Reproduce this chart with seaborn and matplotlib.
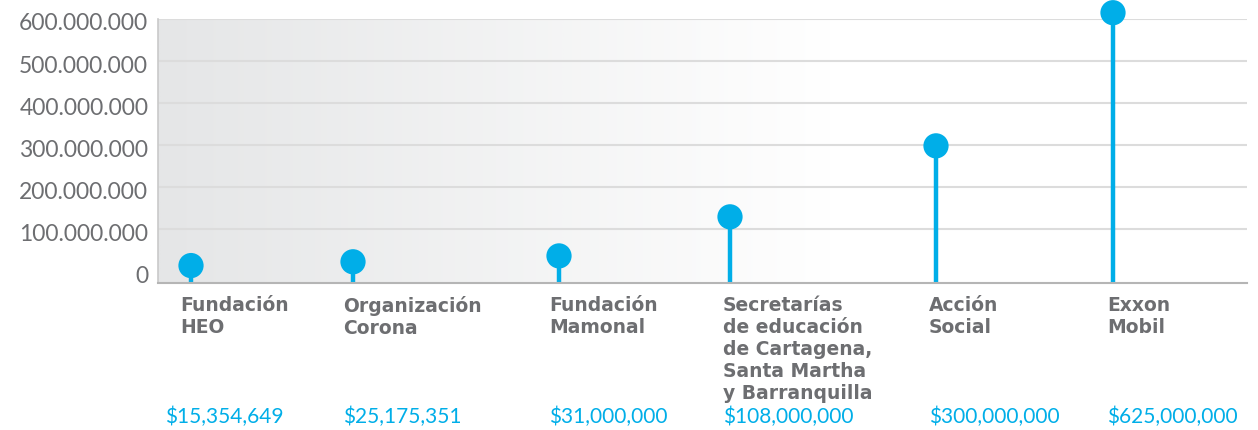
import numpy as np
import pandas as pd
import matplotlib
matplotlib.use("Agg")
import matplotlib.pyplot as plt
import matplotlib.transforms as mtransforms
import seaborn as sns
from matplotlib.colors import LinearSegmentedColormap

# data
categories = [
    "Fundación\nHEO",
    "Organización\nCorona",
    "Fundación\nMamonal",
    "Secretarías\nde educación\nde Cartagena,\nSanta Martha\ny Barranquilla",
    "Acción\nSocial",
    "Exxon\nMobil",
]
plotted_values = [13_000_000, 22_000_000, 36_000_000, 129_000_000, 298_000_000, 615_000_000]
value_labels = ["$15,354,649", "$25,175,351", "$31,000,000",
                "$108,000,000", "$300,000,000", "$625,000,000"]
y_ticks = [0, 100_000_000, 200_000_000, 300_000_000, 400_000_000, 500_000_000, 600_000_000]

# layout (pixel positions along the plot width)
stem_x = [33, 195, 401, 572, 778, 955]
cat_label_x = [180, 343, 549, 723, 929, 1107]
val_label_x = [165, 343, 549, 723, 929, 1107]

CYAN = "#00aee8"
GRAY_TXT = "#6d6e71"

sns.set_theme(style="white")
plt.rcParams["font.family"] = ["Lato", "DejaVu Sans"]

W, H = 1258, 430
fig = plt.figure(figsize=(W / 100, H / 100), dpi=100)
ax_l, ax_r, ax_t, ax_b = 158, 1247, 19, 283
ax = fig.add_axes([ax_l / W, 1 - ax_b / H, (ax_r - ax_l) / W, (ax_b - ax_t) / H])

ymin, ymax = -28_500_000, 600_000_000
ax.set_xlim(0, ax_r - ax_l)
ax.set_ylim(ymin, ymax)

# gradient background: gray on the left fading to white
grad = np.clip(np.linspace(0, 1, 600) / 0.62, 0, 1).reshape(1, -1)
cmap = LinearSegmentedColormap.from_list("bg", ["#e5e6e7", "#ffffff"])
ax.imshow(grad, cmap=cmap, aspect="auto", extent=[0, ax_r - ax_l, ymin, ymax],
          zorder=0, vmin=0, vmax=1)

for t in y_ticks[1:]:
    ax.axhline(t, color="#dcdcdc", lw=1.5, zorder=1)

df = pd.DataFrame({"x": stem_x, "value": plotted_values, "cat": categories})
ax.vlines(df["x"], ymin, df["value"], color=CYAN, lw=3.2, zorder=2)
sns.scatterplot(data=df, x="x", y="value", ax=ax, s=330, color=CYAN,
                edgecolor="none", zorder=3, legend=False, clip_on=False)

ax.set_xticks([])
ax.set_yticks(y_ticks)
ax.set_yticklabels([f"{t:,}".replace(",", ".") for t in y_ticks])
ax.tick_params(axis="y", length=0, pad=7, labelsize=16.5, labelcolor=GRAY_TXT)
# the labels sit a touch below their gridlines in the original
shift = mtransforms.ScaledTranslation(0, -3 / 100, fig.dpi_scale_trans)
for lab in ax.get_yticklabels():
    lab.set_transform(lab.get_transform() + shift)
ax.set_xlabel("")
ax.set_ylabel("")

for side in ["top", "right"]:
    ax.spines[side].set_visible(False)
ax.spines["left"].set_color("#c9c9c9")
ax.spines["left"].set_linewidth(1.2)
ax.spines["bottom"].set_color("#b5b5b5")
ax.spines["bottom"].set_linewidth(1.5)

for cat, lx, vl, vx in zip(categories, cat_label_x, value_labels, val_label_x):
    fig.text(lx / W, 1 - 296 / H, cat, ha="left", va="top", fontsize=13.5,
             fontweight="bold", color=GRAY_TXT, family=["DejaVu Sans"],
             linespacing=1.2)
    fig.text(vx / W, 1 - 417 / H, vl, ha="left", va="center", fontsize=15,
             color=CYAN)

fig.savefig("out.png", dpi=100)
